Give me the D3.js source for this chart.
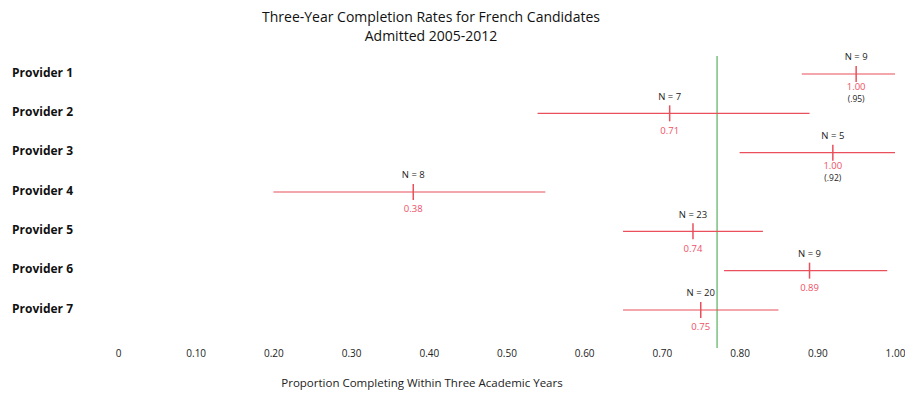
<!DOCTYPE html>
<html>
<head>
<meta charset="utf-8">
<script src="https://cdn.jsdelivr.net/npm/d3@7"></script>
<style>
  body { margin: 0; background: #fff; }
  svg { display: block; font-family: "Open Sans", "Noto Sans", sans-serif; }
</style>
</head>
<body>
<svg id="chart" width="905" height="394"></svg>
<script>
// Completion rates by provider with confidence ranges
const providers = ["Provider 1", "Provider 2", "Provider 3", "Provider 4", "Provider 5", "Provider 6", "Provider 7"];
const rates = [0.95, 0.71, 0.92, 0.38, 0.74, 0.89, 0.75];
const lower = [0.88, 0.54, 0.80, 0.20, 0.65, 0.78, 0.65];
const upper = [1.00, 0.89, 1.00, 0.55, 0.83, 0.99, 0.85];
const counts = [9, 7, 5, 8, 23, 9, 20];
const rateLabels = ["1.00", "0.71", "1.00", "0.38", "0.74", "0.89", "0.75"];
const adjustedLabels = ["(.95)", "", "(.92)", "", "", "", ""];
const referenceRate = 0.771;
const tickValues = [0, 0.1, 0.2, 0.3, 0.4, 0.5, 0.6, 0.7, 0.8, 0.9, 1.0];
const tickLabels = ["0", "0.10", "0.20", "0.30", "0.40", "0.50", "0.60", "0.70", "0.80", "0.90", "1.00"];

const svg = d3.select("#chart");
const x = d3.scaleLinear().domain([0, 1]).range([118, 895]);
const y = d3.scalePoint().domain(providers).range([74, 310]);

const red = "#ea4f5c";
const redText = "#ef5066";

// Title
svg.append("text").attr("x", 431).attr("y", 22).attr("text-anchor", "middle")
  .attr("font-size", 14).attr("fill", "#111").text("Three-Year Completion Rates for French Candidates");
svg.append("text").attr("x", 431).attr("y", 41).attr("text-anchor", "middle")
  .attr("font-size", 14).attr("fill", "#111").text("Admitted 2005-2012");

// Provider labels
svg.append("g").selectAll("text").data(providers).join("text")
  .attr("x", 12).attr("y", d => y(d) - 1.5).attr("dy", "0.35em")
  .attr("font-size", 12).attr("font-weight", "bold").attr("fill", "#111")
  .text(d => d);

// X axis (labels only)
const xAxis = d3.axisBottom(x).tickValues(tickValues)
  .tickFormat((d, i) => tickLabels[i]).tickSize(0).tickPadding(0);
const axisG = svg.append("g").attr("transform", "translate(0,350)").call(xAxis);
axisG.select(".domain").remove();
axisG.selectAll("text").attr("font-size", 10).attr("fill", "#222")
  .attr("font-family", "'Open Sans', 'Noto Sans', sans-serif");

svg.append("text").attr("x", 422).attr("y", 387).attr("text-anchor", "middle")
  .attr("font-size", 11.5).attr("fill", "#222").text("Proportion Completing Within Three Academic Years");

// Reference line
svg.append("line").attr("x1", x(referenceRate)).attr("x2", x(referenceRate))
  .attr("y1", 56).attr("y2", 348).attr("stroke", "#5aaf5f").attr("stroke-width", 1.2);

const rows = providers.map((p, i) => ({ p, rate: rates[i], lo: lower[i], hi: upper[i], n: counts[i], label: rateLabels[i], adj: adjustedLabels[i] }));

const g = svg.append("g").selectAll("g").data(rows).join("g");

g.append("line")
  .attr("x1", d => x(d.lo)).attr("x2", d => x(d.hi))
  .attr("y1", d => y(d.p)).attr("y2", d => y(d.p))
  .attr("stroke", red).attr("stroke-width", 1.2);

g.append("line")
  .attr("x1", d => x(d.rate)).attr("x2", d => x(d.rate))
  .attr("y1", d => y(d.p) - 8).attr("y2", d => y(d.p) + 8)
  .attr("stroke", red).attr("stroke-width", 1.5);

g.append("text")
  .attr("x", d => x(d.rate)).attr("y", d => y(d.p) - 17).attr("dy", "0.35em")
  .attr("text-anchor", "middle").attr("font-size", 9.5).attr("fill", "#222")
  .text(d => "N = " + d.n);

// Rate label; rows with an adjusted figure stack it just underneath
g.append("text")
  .attr("x", d => x(d.rate)).attr("y", d => y(d.p) + (d.adj ? 13 : 17)).attr("dy", "0.35em")
  .attr("text-anchor", "middle").attr("font-size", 9.5).attr("fill", redText)
  .text(d => d.label);

g.filter(d => d.adj).append("text")
  .attr("x", d => x(d.rate)).attr("y", d => y(d.p) + 25).attr("dy", "0.35em")
  .attr("text-anchor", "middle").attr("font-size", 8.5).attr("fill", "#222")
  .text(d => d.adj);
</script>
</body>
</html>
